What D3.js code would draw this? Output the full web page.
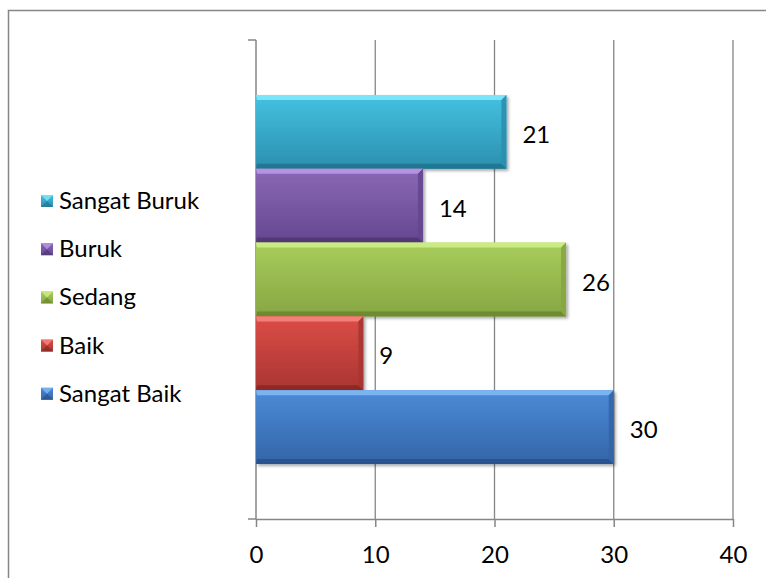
<!DOCTYPE html>
<html>
<head>
<meta charset="utf-8">
<script src="https://cdn.jsdelivr.net/npm/d3@7"></script>
<style>
  html, body { margin: 0; padding: 0; background: #ffffff; }
  svg { display: block; }
  text { font-family: Lato, "Open Sans", sans-serif; fill: #000; }
</style>
</head>
<body>
<svg id="chart" width="766" height="578"></svg>
<script>
// ---- Data ----
const categories = ["Sangat Buruk", "Buruk", "Sedang", "Baik", "Sangat Baik"];
const values = [21, 14, 26, 9, 30];
const xTicks = [0, 10, 20, 30, 40];
const legendOrder = ["Sangat Buruk", "Buruk", "Sedang", "Baik", "Sangat Baik"];
const colors = {
  "Sangat Buruk": { top: "#45c1e2", bot: "#2b8fae", hi: "#7fe9fb", dark: "#1f6f88" },
  "Buruk":        { top: "#8a68b5", bot: "#654790", hi: "#bb97e6", dark: "#4b3370" },
  "Sedang":       { top: "#a9cd5c", bot: "#86a642", hi: "#cdef86", dark: "#66812c" },
  "Baik":         { top: "#dc4d47", bot: "#a93532", hi: "#f7847d", dark: "#832421" },
  "Sangat Baik":  { top: "#4b8ad8", bot: "#3465a8", hi: "#82b9f3", dark: "#244d85" }
};

const svg = d3.select("#chart");
const W = 766, H = 578;
const plot = { left: 256, right: 733, top: 40, bottom: 519 };
const fs = 24;

// chart area with border
svg.append("rect")
  .attr("x", 8.5).attr("y", 10.5)
  .attr("width", W + 10).attr("height", H + 10)
  .attr("fill", "#ffffff").attr("stroke", "#868686").attr("stroke-width", 1.5);

const defs = svg.append("defs");
const shadow = defs.append("filter").attr("id", "shadow")
  .attr("x", "-5%").attr("y", "-10%").attr("width", "115%").attr("height", "130%");
shadow.append("feDropShadow").attr("dx", 2).attr("dy", 2).attr("stdDeviation", 1.8)
  .attr("flood-color", "#000").attr("flood-opacity", 0.35);

categories.forEach((c, i) => {
  const g = defs.append("linearGradient").attr("id", "grad" + i)
    .attr("x1", 0).attr("y1", 0).attr("x2", 0).attr("y2", 1);
  g.append("stop").attr("offset", "0%").attr("stop-color", colors[c].top);
  g.append("stop").attr("offset", "100%").attr("stop-color", colors[c].bot);
});

// scales
const x = d3.scaleLinear().domain([0, 40]).range([plot.left, plot.right]);
const y = d3.scaleBand().domain(categories).range([plot.top, plot.bottom])
  .paddingInner(0).paddingOuter(0.745);

// gridlines
svg.append("g").selectAll("line").data(xTicks.filter(t => t > 0)).join("line")
  .attr("x1", d => x(d)).attr("x2", d => x(d))
  .attr("y1", plot.top).attr("y2", plot.bottom)
  .attr("stroke", "#868686").attr("stroke-width", 1.3);

// x axis
const xAxis = d3.axisBottom(x).tickValues(xTicks).tickSize(8).tickSizeOuter(0).tickPadding(6);
const gx = svg.append("g").attr("transform", `translate(0,${plot.bottom})`).call(xAxis);
gx.select(".domain").attr("stroke", "#868686").attr("stroke-width", 1.5);
gx.selectAll(".tick line").attr("stroke", "#868686").attr("stroke-width", 1.5);
gx.selectAll(".tick text").style("font-size", fs + "px").style("font-family", "Lato, sans-serif")
  .attr("fill", "#000").attr("dy", null).attr("y", 44);

// y axis line + outer ticks
const gy = svg.append("g");
gy.append("line").attr("x1", plot.left).attr("x2", plot.left)
  .attr("y1", plot.top).attr("y2", plot.bottom)
  .attr("stroke", "#868686").attr("stroke-width", 1.5);
gy.selectAll("line.t").data([plot.top, plot.bottom]).join("line").attr("class", "t")
  .attr("x1", plot.left - 8).attr("x2", plot.left)
  .attr("y1", d => d).attr("y2", d => d)
  .attr("stroke", "#868686").attr("stroke-width", 1.5);

// bars
const bv = 5; // bevel size
const bars = svg.append("g").selectAll("g").data(categories.map((c, i) => ({ c, v: values[i], i })))
  .join("g");
bars.append("rect")
  .attr("x", x(0)).attr("y", d => y(d.c))
  .attr("width", d => x(d.v) - x(0)).attr("height", y.bandwidth())
  .attr("fill", d => `url(#grad${d.i})`)
  .attr("filter", "url(#shadow)");
// top bevel
bars.append("polygon")
  .attr("points", d => {
    const x0 = x(0), x1 = x(d.v), y0 = y(d.c);
    return `${x0},${y0} ${x1},${y0} ${x1 - bv},${y0 + bv} ${x0 + 1},${y0 + bv}`;
  })
  .attr("fill", d => colors[d.c].hi).attr("opacity", 0.9);
// bottom bevel
bars.append("polygon")
  .attr("points", d => {
    const x0 = x(0), x1 = x(d.v), y1 = y(d.c) + y.bandwidth();
    return `${x0},${y1} ${x1},${y1} ${x1 - bv},${y1 - bv} ${x0 + 1},${y1 - bv}`;
  })
  .attr("fill", d => colors[d.c].dark).attr("opacity", 0.75);
// right bevel
bars.append("polygon")
  .attr("points", d => {
    const x1 = x(d.v), y0 = y(d.c), y1 = y0 + y.bandwidth();
    return `${x1},${y0} ${x1},${y1} ${x1 - bv},${y1 - bv} ${x1 - bv},${y0 + bv}`;
  })
  .attr("fill", d => colors[d.c].bot).attr("opacity", 0.9);

// data labels
svg.append("g").selectAll("text").data(categories.map((c, i) => ({ c, v: values[i] })))
  .join("text")
  .attr("x", d => x(d.v) + 16)
  .attr("y", d => y(d.c) + y.bandwidth() / 2 + 11)
  .style("font-size", fs + "px")
  .text(d => d.v);

// legend
const lg = svg.append("g").selectAll("g").data(legendOrder).join("g")
  .attr("transform", (d, i) => `translate(0,${209 + i * 48.2})`);
lg.append("rect").attr("x", 41).attr("y", -14).attr("width", 12).attr("height", 12)
  .attr("fill", d => `url(#grad${categories.indexOf(d)})`);
lg.append("polygon").attr("points", "41,-14 53,-14 47,-8").attr("fill", d => colors[d].hi).attr("opacity", 0.8);
lg.append("polygon").attr("points", "41,-2 53,-2 47,-8").attr("fill", d => colors[d].dark).attr("opacity", 0.6);
lg.append("text").attr("x", 59).attr("y", 0).style("font-size", fs + "px").text(d => d);
</script>
</body>
</html>
